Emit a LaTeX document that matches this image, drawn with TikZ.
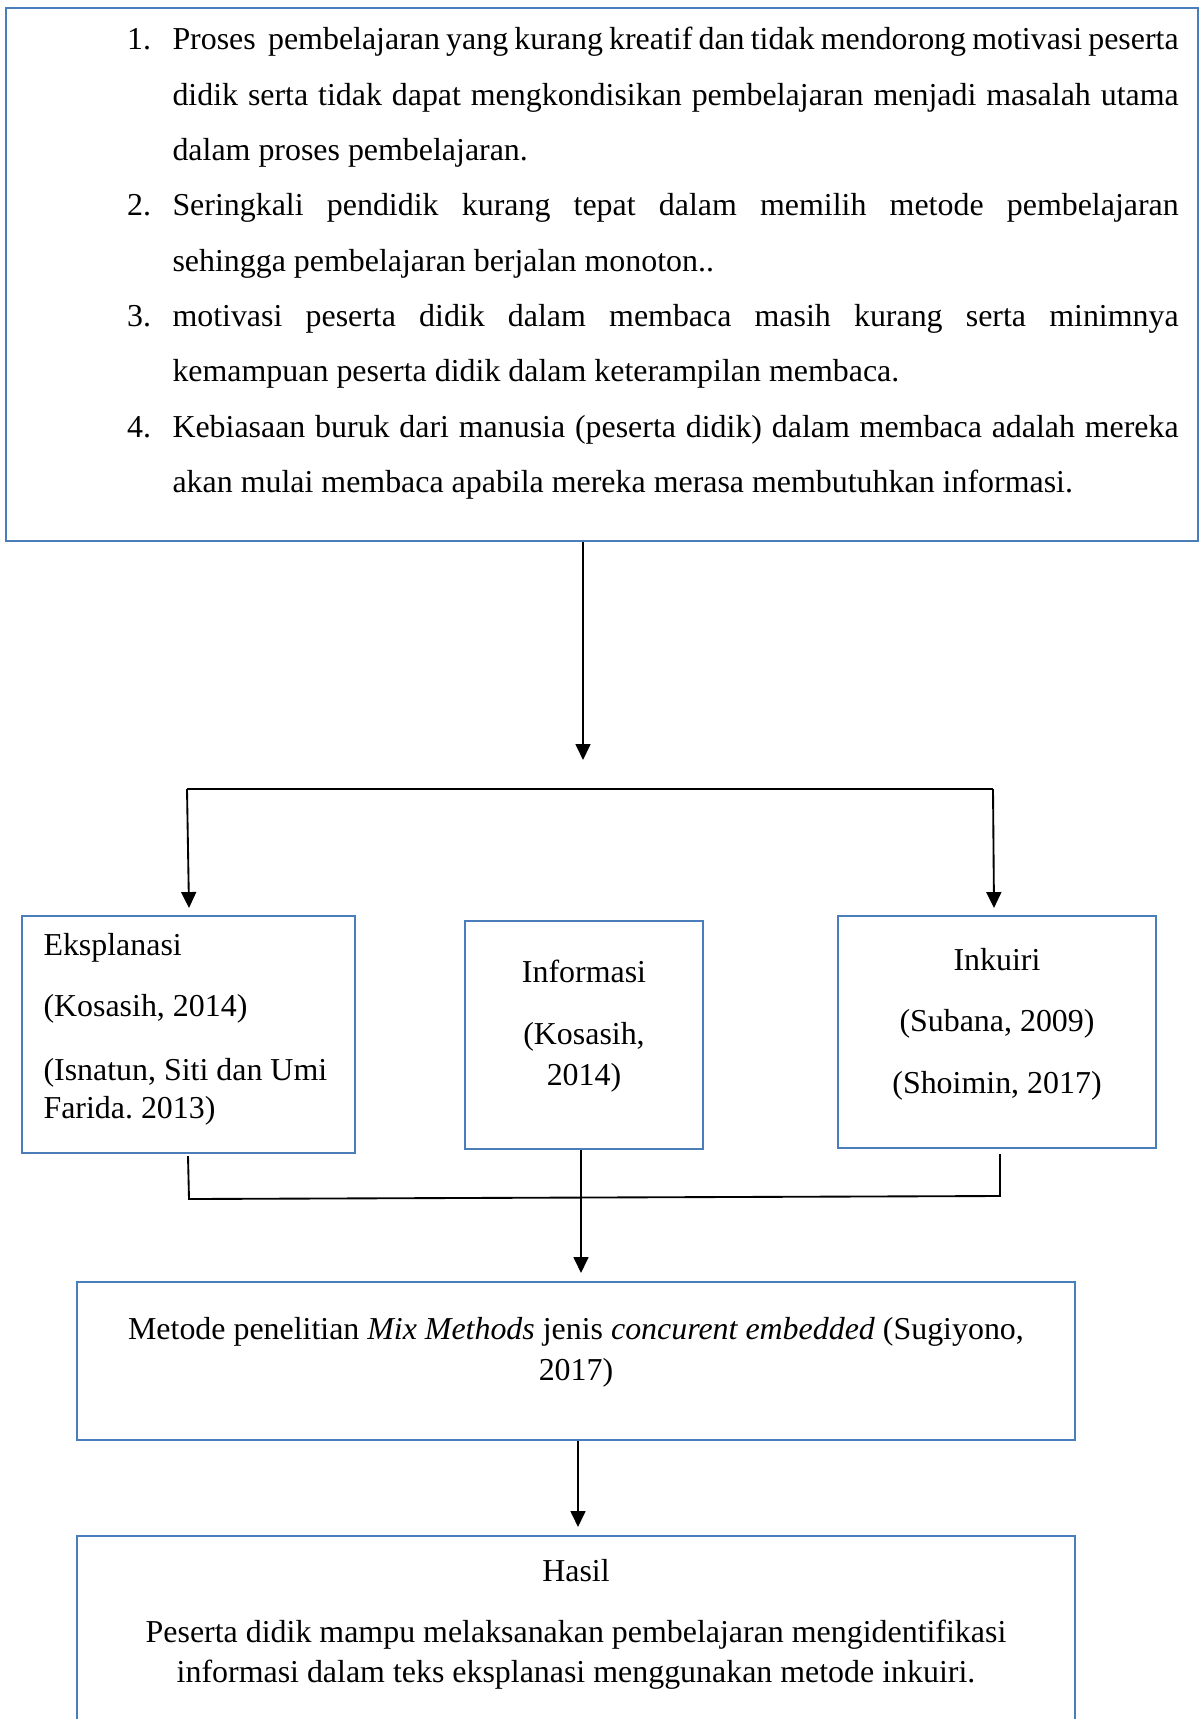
\documentclass[tikz,border=0pt]{standalone}
\usepackage{fontspec}
\setmainfont{Liberation Serif}
\frenchspacing
\usetikzlibrary{arrows.meta,fit}
\definecolor{boxblue}{HTML}{4A7EBB}
\tikzset{
  boxframe/.style={draw=boxblue, line width=0.9pt, inner sep=0pt, fill=white},
  txt/.style={inner sep=0pt, font=\fontsize{12}{13.8}\selectfont\frenchspacing},
  conn/.style={draw=black, line width=0.7pt},
  arr/.style={conn, -{Triangle[length=6pt,width=5.6pt]}}
}
\newcommand{\itemnum}[1]{\noindent\llap{\makebox[17.1pt][l]{#1}}}
\begin{document}
\begin{tikzpicture}[x=0.376pt, y=-0.376pt]
\useasboundingbox (0,0) rectangle (1201,1719);
\clip (0,0) rectangle (1201,1719);
\fill[white] (0,0) rectangle (1201,1719);

% boxes
\node[boxframe, fit={(6,8) (1198,541)}] (top) {};
\node[boxframe, fit={(22,916) (355,1153)}] (eks) {};
\node[boxframe, fit={(465,921) (703,1149)}] (inf) {};
\node[boxframe, fit={(838,916) (1156,1148)}] (ink) {};
\node[boxframe, fit={(77,1282) (1075,1440)}] (met) {};
\node[boxframe, fit={(77,1536) (1075,1760)}] (has) {};

% top list
\node[txt, anchor=base west, text width=378.3pt, align=justify,
      font=\fontsize{12}{20.8}\selectfont\frenchspacing] (list) at (172,50) {%
\hyphenpenalty=10000\exhyphenpenalty=10000\tolerance=10000\parindent=0pt\parskip=0pt%
\itemnum{1.}Proses\ \ pembelajaran yang kurang kreatif dan tidak mendorong motivasi peserta\linebreak
didik serta tidak dapat mengkondisikan pembelajaran menjadi masalah utama\linebreak
dalam proses pembelajaran.\par
\itemnum{2.}Seringkali pendidik kurang tepat dalam memilih metode pembelajaran\linebreak
sehingga pembelajaran berjalan monoton..\par
\itemnum{3.}motivasi peserta didik dalam membaca masih kurang serta minimnya\linebreak
kemampuan peserta didik dalam keterampilan membaca.\par
\itemnum{4.}Kebiasaan buruk dari manusia (peserta didik) dalam membaca adalah mereka\linebreak
akan mulai membaca apabila mereka merasa membutuhkan informasi.\par};

% Eksplanasi texts
\node[txt, anchor=base west] (e1) at (43,955) {Eksplanasi};
\node[txt, anchor=base west] (e2) at (43,1016) {(Kosasih, 2014)};
\node[txt, anchor=base west] (e3) at (43,1080) {(Isnatun, Siti dan Umi};
\node[txt, anchor=base west] (e4) at (43,1118) {Farida. 2013)};

% Informasi texts
\node[txt, anchor=base] (i1) at (584,982) {Informasi};
\node[txt, anchor=base] (i2) at (584,1044) {(Kosasih,};
\node[txt, anchor=base] (i3) at (584,1085) {2014)};

% Inkuiri texts
\node[txt, anchor=base] (k1) at (997,970) {Inkuiri};
\node[txt, anchor=base] (k2) at (997,1031) {(Subana, 2009)};
\node[txt, anchor=base] (k3) at (997,1093) {(Shoimin, 2017)};

% Metode texts
\node[txt, anchor=base] (m1) at (576,1339) {Metode penelitian \textit{Mix Methods} jenis \textit{concurent embedded} (Sugiyono,};
\node[txt, anchor=base] (m2) at (576,1380) {2017)};

% Hasil texts
\node[txt, anchor=base] (h1) at (576,1581) {Hasil};
\node[txt, anchor=base] (h2) at (576,1642) {Peserta didik mampu melaksanakan pembelajaran mengidentifikasi};
\node[txt, anchor=base] (h3) at (576,1682) {informasi dalam teks eksplanasi menggunakan metode inkuiri.};

% connector coordinates
\coordinate (t1) at (583,760);
\coordinate (bl) at (187,789);
\coordinate (br) at (993,789);
\coordinate (al) at (189,908);
\coordinate (ar) at (994,908);
\coordinate (ll) at (188,1156);
\coordinate (lm) at (189,1199);
\coordinate (rm) at (1000,1196);
\coordinate (rr) at (1000,1154);
\coordinate (t2) at (581,1273);
\coordinate (t3) at (578,1527);

% connectors
\draw[arr] (top.south -| t1) -- (t1);
\draw[conn] (bl) -- (br);
\draw[arr] (bl) -- (al);
\draw[arr] (br) -- (ar);
\draw[conn] (ll) -- (lm) -- (rm) -- (rr);
\draw[arr] (inf.south -| t2) -- (t2);
\draw[arr] (met.south -| t3) -- (t3);
\end{tikzpicture}
\end{document}
